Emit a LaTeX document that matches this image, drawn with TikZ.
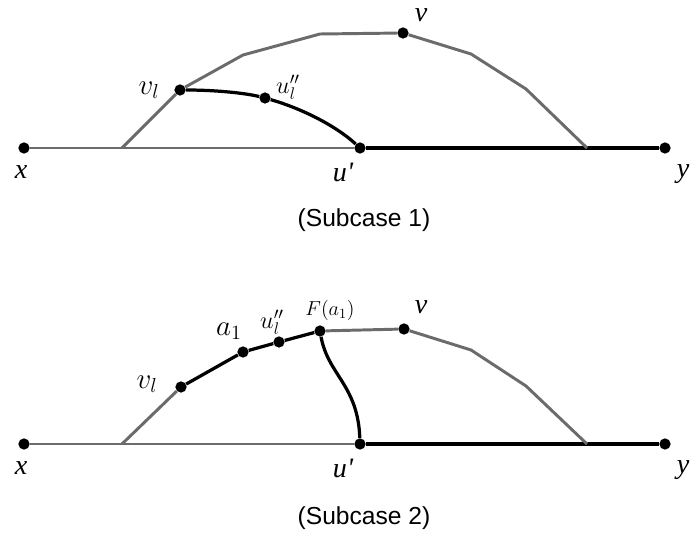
\documentclass[tikz,border=0pt]{standalone}
\usepackage{fontspec}
\newfontfamily\helv{Liberation Sans}
\newfontfamily\tms{Liberation Serif}
\usetikzlibrary{positioning}

\begin{document}
\begin{tikzpicture}[
  x=0.025cm, y=-0.025cm,
  punto/.style={circle, fill=black, inner sep=0pt, minimum size=8pt},
  gris/.style={line width=2.1pt, draw=black!58, line join=round},
  negro/.style={line width=2.3pt, draw=black, line join=round},
  etiq/.style={inner sep=0pt, font=\fontsize{20}{24}\selectfont},
  letra/.style={inner sep=0pt, font=\fontsize{20}{24}\selectfont\tms\itshape},
  titulo/.style={inner sep=0pt, font=\fontsize{17.5}{21}\selectfont\helv}
]
\useasboundingbox (0,0) rectangle (691,536);

% Subcase 1
\node[punto] (x1) at (24,148) {};
\node[punto] (u1) at (360,148) {};
\node[punto] (y1) at (665,148) {};
\node[punto] (v1) at (180,90) {};
\node[punto] (n1) at (403,33) {};
\node[punto] (w1) at (265,98) {};
\coordinate (p1) at (122,148);
\coordinate (q1) at (587,148);

\draw[gris] (x1) -- (u1);
\draw[negro] (u1) -- (y1);
\draw[gris] (p1) -- (v1) -- (243,55) -- (320,34) -- (n1);
\draw[gris] (n1) -- (471,54) -- (526,89) -- (q1);
\draw[negro] (v1) .. controls (215,90) and (245,93) .. (w1);
\draw[negro] (w1) .. controls (300,108) and (335,125) .. (u1);

\node[letra] (lx1) at (21,172) {x};
\node[letra] (lu1) at (343,172) {u\textquotesingle};
\node[letra] (ly1) at (683,174) {y};
\node[letra] (ln1) at (421,15) {ν};
\node[etiq] (lv1) at (149,90) {$v_l$};
\node[etiq, font=\fontsize{18}{22}\selectfont] (lw1) at (288,87) {$u''_l$};
\node[titulo] (cap1) at (364,220) {(Subcase 1)};

% Subcase 2
\node[punto] (x2) at (24,444) {};
\node[punto] (u2) at (360,444) {};
\node[punto] (y2) at (665,444) {};
\node[punto] (v2) at (181,387) {};
\node[punto] (a2) at (243,352) {};
\node[punto] (w2) at (279,342) {};
\node[punto] (f2) at (320,331) {};
\node[punto] (n2) at (404,329) {};
\coordinate (p2) at (122,444);
\coordinate (q2) at (587,444);

\draw[gris] (x2) -- (u2);
\draw[negro] (u2) -- (y2);
\draw[gris] (p2) -- (v2);
\draw[negro] (v2) -- (a2) -- (w2) -- (f2);
\draw[gris] (f2) -- (n2);
\draw[gris] (n2) -- (471,350) -- (526,386) -- (q2);
\draw[negro] (f2) .. controls (328,375) and (358,385) .. (u2);

\node[letra] (lx2) at (21,468) {x};
\node[letra] (lu2) at (343,468) {u\textquotesingle};
\node[letra] (ly2) at (683,470) {y};
\node[letra] (ln2) at (421,307) {ν};
\node[etiq] (lv2) at (147,384) {$v_l$};
\node[etiq] (la2) at (229,331) {$a_1$};
\node[etiq, font=\fontsize{18}{22}\selectfont] (lw2) at (272,322) {$u''_l$};
\node[etiq, font=\fontsize{14.5}{17}\selectfont] (lf2) at (330,310) {$F(a_1)$};
\node[titulo] (cap2) at (364,518) {(Subcase 2)};
\end{tikzpicture}
\end{document}
